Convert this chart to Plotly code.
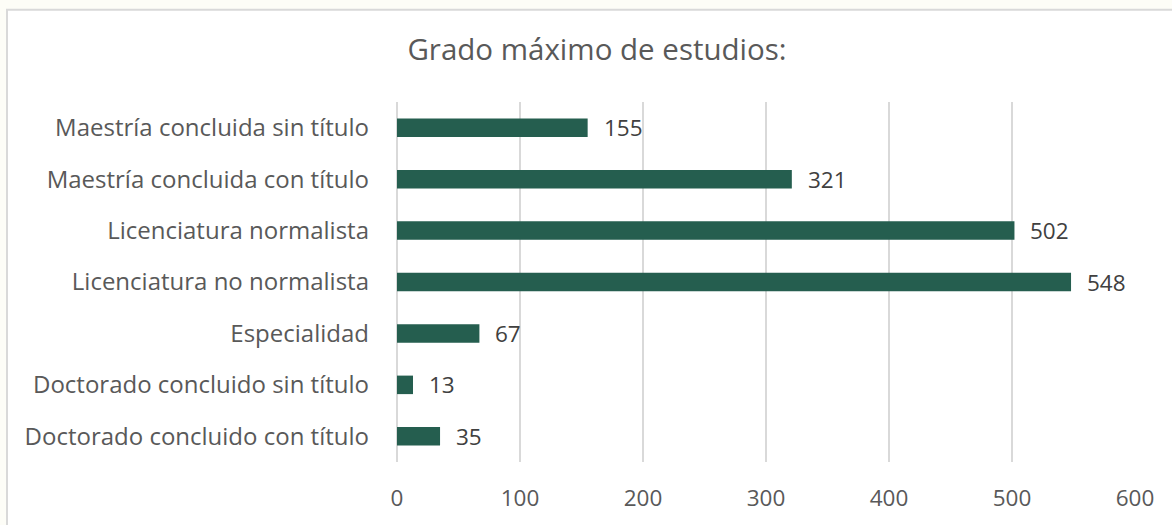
import plotly.graph_objects as go

categories = [
    "Doctorado concluido con título",
    "Doctorado concluido sin título",
    "Especialidad",
    "Licenciatura no normalista",
    "Licenciatura normalista",
    "Maestría concluida con título",
    "Maestría concluida sin título",
]
values = [35, 13, 67, 548, 502, 321, 155]
x_ticks = [0, 100, 200, 300, 400, 500, 600]

W, H = 1172, 525
L, R, T, B = 397, 37, 102, 60
FONT = "Open Sans"

fig = go.Figure()
fig.add_trace(go.Bar(
    x=values, y=categories, orientation="h",
    marker=dict(color="#255E4F", line=dict(width=0)),
    width=0.36, hoverinfo="skip",
))

for v, c in zip(values, categories):
    fig.add_annotation(x=v, y=c, text=str(v), showarrow=False,
                       xanchor="left", xshift=14,
                       font=dict(family=FONT, size=22.5, color="#404040"))

fig.add_shape(type="rect", xref="paper", yref="paper",
              x0=(7 - L) / (W - L - R), x1=(W + 20 - L) / (W - L - R),
              y0=-(H + 20 - (H - B)) / (H - T - B), y1=(H - 9 - B) / (H - T - B),
              line=dict(color="#D9D9D9", width=2), fillcolor="white", layer="below")

fig.update_layout(
    width=W, height=H,
    margin=dict(l=L, r=R, t=T, b=B, pad=0),
    paper_bgcolor="#FDFDF7",
    plot_bgcolor="rgba(0,0,0,0)",
    showlegend=False,
    title=dict(text="Grado máximo de estudios:", x=597 / W, xanchor="center",
               y=1 - 50 / H, yanchor="middle",
               font=dict(family=FONT, size=29.5, color="#595959")),
    font=dict(family=FONT, color="#595959"),
    xaxis=dict(range=[0, 600], tickvals=x_ticks, showgrid=True,
               gridcolor="#D9D9D9", gridwidth=1.5, zeroline=True,
               zerolinecolor="#D9D9D9", zerolinewidth=1.5,
               showline=False, ticks="", ticklabelstandoff=20,
               tickfont=dict(family=FONT, size=22.5, color="#595959")),
    yaxis=dict(categoryorder="array", categoryarray=categories,
               showgrid=False, zeroline=False, showline=False, ticks="",
               ticklabelstandoff=27,
               tickfont=dict(family=FONT, size=24, color="#595959")),
)

fig.write_html(
    "out.html",
    config={"displayModeBar": False},
    post_script="document.body.style.margin='0';document.body.style.background='#FDFDF7';",
)
